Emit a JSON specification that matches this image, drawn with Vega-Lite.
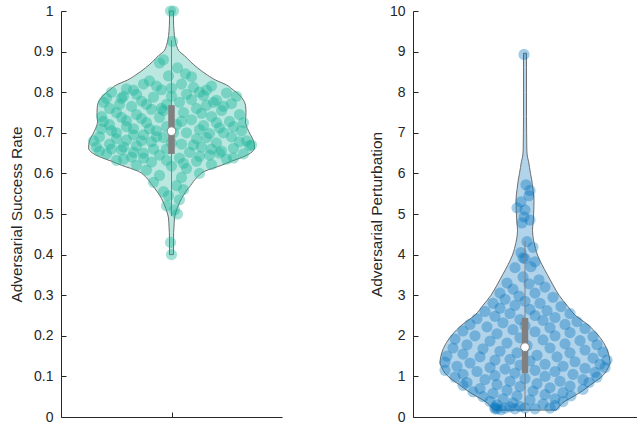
{
  "$schema": "https://vega.github.io/schema/vega-lite/v6.json",
  "autosize": {"type": "pad"},
  "padding": {"left": 9, "top": 4, "right": 0, "bottom": 0},
  "background": "white",
  "bounds": "flush",
  "spacing": 131,
  "config": {
    "view": {"stroke": null},
    "axis": {
      "grid": false,
      "domainColor": "#262626",
      "tickColor": "#262626",
      "labelColor": "#262626",
      "titleColor": "#262626",
      "labelFont": "Liberation Sans",
      "titleFont": "Liberation Sans",
      "labelFontSize": 14,
      "titleFontSize": 15.4,
      "titleFontWeight": "normal",
      "tickSize": -5,
      "labelPadding": 13,
      "domainWidth": 1,
      "tickWidth": 1
    }
  },
  "datasets": {
    "lv": [
      {"v":0.400,"lo":-0.02,"hi":0.02},{"v":0.440,"lo":-0.02,"hi":0.02},{"v":0.470,"lo":-0.025,"hi":0.025},
      {"v":0.490,"lo":-0.03,"hi":0.03},{"v":0.505,"lo":-0.045,"hi":0.045},{"v":0.522,"lo":-0.07,"hi":0.07},
      {"v":0.538,"lo":-0.10,"hi":0.10},{"v":0.554,"lo":-0.14,"hi":0.14},{"v":0.570,"lo":-0.19,"hi":0.19},
      {"v":0.589,"lo":-0.25,"hi":0.25},{"v":0.605,"lo":-0.33,"hi":0.33},{"v":0.620,"lo":-0.50,"hi":0.50},
      {"v":0.630,"lo":-0.60,"hi":0.60},{"v":0.640,"lo":-0.71,"hi":0.71},{"v":0.650,"lo":-0.79,"hi":0.79},
      {"v":0.663,"lo":-0.83,"hi":0.83},{"v":0.680,"lo":-0.82,"hi":0.82},{"v":0.695,"lo":-0.79,"hi":0.79},
      {"v":0.710,"lo":-0.76,"hi":0.76},{"v":0.727,"lo":-0.74,"hi":0.74},{"v":0.750,"lo":-0.745,"hi":0.745},
      {"v":0.768,"lo":-0.74,"hi":0.74},{"v":0.780,"lo":-0.72,"hi":0.72},{"v":0.793,"lo":-0.68,"hi":0.68},
      {"v":0.805,"lo":-0.62,"hi":0.62},{"v":0.818,"lo":-0.55,"hi":0.55},{"v":0.830,"lo":-0.44,"hi":0.44},
      {"v":0.842,"lo":-0.36,"hi":0.36},{"v":0.860,"lo":-0.26,"hi":0.26},{"v":0.875,"lo":-0.19,"hi":0.19},
      {"v":0.890,"lo":-0.13,"hi":0.13},{"v":0.900,"lo":-0.08,"hi":0.08},{"v":0.915,"lo":-0.05,"hi":0.05},
      {"v":0.930,"lo":-0.035,"hi":0.035},{"v":0.950,"lo":-0.025,"hi":0.025},{"v":0.980,"lo":-0.02,"hi":0.02},
      {"v":1.000,"lo":-0.02,"hi":0.02}
    ],
    "lp": [
      {"dx":-0.01,"v":1.0},{"dx":0.02,"v":1.0},{"dx":0.01,"v":0.925},
      {"dx":-0.08,"v":0.88},{"dx":-0.12,"v":0.872},{"dx":0.06,"v":0.86},{"dx":-0.03,"v":0.84},{"dx":0.14,"v":0.845},{"dx":0.20,"v":0.838},{"dx":-0.22,"v":0.828},
      {"dx":-0.28,"v":0.82},{"dx":0.10,"v":0.82},{"dx":0.40,"v":0.815},{"dx":-0.45,"v":0.808},{"dx":-0.10,"v":0.806},{"dx":0.28,"v":0.80},
      {"dx":-0.60,"v":0.80},{"dx":0.55,"v":0.798},{"dx":-0.35,"v":0.795},{"dx":0.0,"v":0.79},{"dx":-0.18,"v":0.788},{"dx":0.65,"v":0.79},
      {"dx":-0.50,"v":0.785},{"dx":0.20,"v":0.782},{"dx":0.45,"v":0.78},{"dx":-0.68,"v":0.775},{"dx":-0.30,"v":0.778},{"dx":0.08,"v":0.775},
      {"dx":-0.05,"v":0.77},{"dx":0.35,"v":0.768},{"dx":0.60,"v":0.772},{"dx":-0.40,"v":0.765},{"dx":-0.62,"v":0.76},{"dx":0.25,"v":0.76},
      {"dx":-0.20,"v":0.758},{"dx":0.50,"v":0.755},{"dx":-0.55,"v":0.75},{"dx":0.12,"v":0.75},{"dx":-0.35,"v":0.745},{"dx":0.68,"v":0.745},
      {"dx":-0.70,"v":0.74},{"dx":0.40,"v":0.74},{"dx":-0.12,"v":0.738},{"dx":-0.45,"v":0.73},{"dx":0.20,"v":0.732},{"dx":0.58,"v":0.728},
      {"dx":-0.25,"v":0.725},{"dx":0.05,"v":0.72},{"dx":-0.62,"v":0.72},{"dx":0.32,"v":0.718},{"dx":-0.05,"v":0.715},{"dx":0.48,"v":0.712},
      {"dx":-0.38,"v":0.71},{"dx":-0.15,"v":0.705},{"dx":0.70,"v":0.705},{"dx":0.15,"v":0.70},{"dx":-0.55,"v":0.70},{"dx":0.38,"v":0.698},
      {"dx":-0.28,"v":0.695},{"dx":-0.72,"v":0.69},{"dx":0.60,"v":0.69},{"dx":-0.08,"v":0.688},{"dx":0.25,"v":0.685},{"dx":-0.45,"v":0.682},
      {"dx":0.75,"v":0.68},{"dx":-0.20,"v":0.678},{"dx":0.45,"v":0.675},{"dx":-0.62,"v":0.672},{"dx":0.10,"v":0.672},{"dx":-0.35,"v":0.668},
      {"dx":0.30,"v":0.665},{"dx":-0.75,"v":0.665},{"dx":0.62,"v":0.662},{"dx":-0.05,"v":0.66},{"dx":-0.50,"v":0.658},{"dx":0.50,"v":0.655},
      {"dx":0.18,"v":0.652},{"dx":-0.28,"v":0.65},{"dx":-0.65,"v":0.648},{"dx":0.72,"v":0.648},{"dx":0.38,"v":0.645},{"dx":-0.12,"v":0.645},
      {"dx":-0.40,"v":0.64},{"dx":0.08,"v":0.638},{"dx":0.55,"v":0.635},{"dx":-0.55,"v":0.632},{"dx":0.25,"v":0.63},{"dx":-0.20,"v":0.628},
      {"dx":0.40,"v":0.622},{"dx":-0.35,"v":0.62},{"dx":0.0,"v":0.618},{"dx":0.15,"v":0.612},{"dx":-0.25,"v":0.608},{"dx":0.28,"v":0.60},
      {"dx":-0.12,"v":0.595},{"dx":0.10,"v":0.59},{"dx":-0.18,"v":0.578},{"dx":0.05,"v":0.57},{"dx":0.12,"v":0.56},{"dx":-0.08,"v":0.555},
      {"dx":-0.03,"v":0.545},{"dx":0.08,"v":0.535},{"dx":-0.05,"v":0.52},{"dx":0.03,"v":0.51},{"dx":0.06,"v":0.50},
      {"dx":-0.01,"v":0.43},{"dx":0.0,"v":0.40},
      {"dx":-0.48,"v":0.79},{"dx":0.32,"v":0.792},{"dx":-0.25,"v":0.77},{"dx":0.52,"v":0.765},{"dx":-0.08,"v":0.755},{"dx":0.30,"v":0.748},
      {"dx":-0.50,"v":0.738},{"dx":-0.30,"v":0.735},{"dx":0.45,"v":0.725},{"dx":-0.68,"v":0.728},{"dx":0.10,"v":0.728},{"dx":0.62,"v":0.715},
      {"dx":-0.45,"v":0.715},{"dx":-0.22,"v":0.71},{"dx":0.28,"v":0.708},{"dx":-0.60,"v":0.705},{"dx":0.02,"v":0.70},{"dx":0.52,"v":0.70},
      {"dx":-0.38,"v":0.695},{"dx":-0.15,"v":0.69},{"dx":0.35,"v":0.688},{"dx":-0.55,"v":0.685},{"dx":0.68,"v":0.678},{"dx":-0.30,"v":0.68},
      {"dx":0.0,"v":0.675},{"dx":0.22,"v":0.67},{"dx":-0.48,"v":0.665},{"dx":-0.18,"v":0.66},{"dx":0.40,"v":0.66},{"dx":0.78,"v":0.668},
      {"dx":-0.72,"v":0.655},{"dx":-0.38,"v":0.652},{"dx":0.28,"v":0.642},{"dx":0.62,"v":0.638},{"dx":-0.48,"v":0.635},{"dx":-0.05,"v":0.632},
      {"dx":0.12,"v":0.625},{"dx":-0.28,"v":0.638},{"dx":0.48,"v":0.65},{"dx":-0.60,"v":0.66},{"dx":-0.10,"v":0.76},{"dx":0.15,"v":0.795},
      {"dx":-0.38,"v":0.805},{"dx":0.0,"v":0.81},{"dx":0.22,"v":0.812},{"dx":-0.15,"v":0.815},{"dx":0.35,"v":0.805},{"dx":-0.52,"v":0.77},
      {"dx":0.42,"v":0.775},{"dx":-0.78,"v":0.68},{"dx":0.80,"v":0.67},{"dx":-0.70,"v":0.71},{"dx":0.72,"v":0.725},{"dx":-0.65,"v":0.785}
    ],
    "lb": [{"c":0,"wlo":0.495,"whi":0.928,"q1":0.648,"q3":0.768,"med":0.704}],
    "rv": [
      {"v":0.17,"lo":-0.31,"hi":0.31},{"v":0.25,"lo":-0.34,"hi":0.34},{"v":0.37,"lo":-0.39,"hi":0.39},
      {"v":0.50,"lo":-0.48,"hi":0.48},{"v":0.62,"lo":-0.56,"hi":0.56},{"v":0.80,"lo":-0.66,"hi":0.66},
      {"v":0.96,"lo":-0.75,"hi":0.75},{"v":1.08,"lo":-0.80,"hi":0.80},{"v":1.21,"lo":-0.83,"hi":0.83},
      {"v":1.33,"lo":-0.85,"hi":0.85},{"v":1.45,"lo":-0.845,"hi":0.845},{"v":1.60,"lo":-0.83,"hi":0.83},
      {"v":1.77,"lo":-0.80,"hi":0.80},{"v":2.02,"lo":-0.73,"hi":0.73},{"v":2.27,"lo":-0.63,"hi":0.63},
      {"v":2.51,"lo":-0.50,"hi":0.50},{"v":2.75,"lo":-0.42,"hi":0.42},{"v":3.00,"lo":-0.34,"hi":0.34},
      {"v":3.25,"lo":-0.28,"hi":0.28},{"v":3.50,"lo":-0.225,"hi":0.225},{"v":3.75,"lo":-0.17,"hi":0.17},
      {"v":3.99,"lo":-0.125,"hi":0.125},{"v":4.15,"lo":-0.105,"hi":0.105},{"v":4.30,"lo":-0.09,"hi":0.09},
      {"v":4.48,"lo":-0.078,"hi":0.078},{"v":4.60,"lo":-0.075,"hi":0.075},{"v":4.85,"lo":-0.083,"hi":0.083},
      {"v":5.10,"lo":-0.088,"hi":0.088},{"v":5.34,"lo":-0.09,"hi":0.09},{"v":5.60,"lo":-0.08,"hi":0.08},
      {"v":5.84,"lo":-0.067,"hi":0.067},{"v":6.00,"lo":-0.055,"hi":0.055},{"v":6.15,"lo":-0.045,"hi":0.045},
      {"v":6.30,"lo":-0.035,"hi":0.035},{"v":6.40,"lo":-0.025,"hi":0.025},{"v":6.60,"lo":-0.018,"hi":0.018},
      {"v":7.00,"lo":-0.016,"hi":0.016},{"v":7.40,"lo":-0.015,"hi":0.015},{"v":8.00,"lo":-0.015,"hi":0.015},
      {"v":8.60,"lo":-0.015,"hi":0.015},{"v":8.96,"lo":-0.015,"hi":0.015}
    ],
    "rp": [
      {"dx":-0.01,"v":8.93},
      {"dx":0.01,"v":5.72},{"dx":0.05,"v":5.58},{"dx":0.04,"v":5.45},{"dx":-0.04,"v":5.3},{"dx":-0.08,"v":5.15},{"dx":0.0,"v":5.1},{"dx":-0.01,"v":4.93},{"dx":0.05,"v":4.85},{"dx":-0.03,"v":4.78},
      {"dx":0.02,"v":4.32},{"dx":0.08,"v":4.18},{"dx":-0.04,"v":4.05},{"dx":-0.02,"v":3.92},{"dx":0.0,"v":3.9},{"dx":-0.10,"v":3.68},{"dx":0.06,"v":3.7},{"dx":0.10,"v":3.82},{"dx":-0.02,"v":3.45},{"dx":0.14,"v":3.38},
      {"dx":-0.18,"v":3.3},{"dx":0.04,"v":3.28},{"dx":0.20,"v":3.2},{"dx":-0.12,"v":3.15},{"dx":-0.25,"v":3.05},{"dx":0.10,"v":3.05},{"dx":-0.06,"v":2.98},{"dx":0.28,"v":2.95},{"dx":-0.20,"v":2.9},{"dx":0.0,"v":2.85},
      {"dx":-0.32,"v":2.8},{"dx":0.15,"v":2.8},{"dx":-0.10,"v":2.75},{"dx":0.36,"v":2.72},{"dx":-0.25,"v":2.68},{"dx":0.05,"v":2.65},{"dx":0.22,"v":2.62},{"dx":-0.40,"v":2.6},{"dx":-0.15,"v":2.55},{"dx":0.45,"v":2.55},
      {"dx":0.10,"v":2.5},{"dx":-0.30,"v":2.48},{"dx":0.30,"v":2.45},{"dx":-0.48,"v":2.42},{"dx":-0.05,"v":2.4},{"dx":0.18,"v":2.38},{"dx":0.52,"v":2.35},{"dx":-0.22,"v":2.32},{"dx":-0.55,"v":2.28},{"dx":0.40,"v":2.28},
      {"dx":0.0,"v":2.25},{"dx":-0.38,"v":2.22},{"dx":0.25,"v":2.2},{"dx":0.60,"v":2.18},{"dx":-0.12,"v":2.15},{"dx":-0.62,"v":2.12},{"dx":0.10,"v":2.1},{"dx":0.45,"v":2.08},{"dx":-0.28,"v":2.05},{"dx":-0.50,"v":2.0},
      {"dx":0.30,"v":2.0},{"dx":0.68,"v":1.98},{"dx":-0.05,"v":1.95},{"dx":-0.70,"v":1.92},{"dx":0.18,"v":1.9},{"dx":0.55,"v":1.88},{"dx":-0.35,"v":1.87},{"dx":-0.18,"v":1.82},{"dx":0.40,"v":1.8},{"dx":0.72,"v":1.78},
      {"dx":-0.58,"v":1.78},{"dx":0.02,"v":1.76},{"dx":-0.72,"v":1.7},{"dx":0.25,"v":1.7},{"dx":-0.42,"v":1.68},{"dx":0.60,"v":1.65},{"dx":-0.25,"v":1.62},{"dx":0.78,"v":1.6},{"dx":-0.08,"v":1.58},{"dx":0.45,"v":1.58},
      {"dx":-0.62,"v":1.55},{"dx":0.12,"v":1.52},{"dx":-0.78,"v":1.5},{"dx":0.32,"v":1.48},{"dx":-0.45,"v":1.48},{"dx":0.68,"v":1.45},{"dx":-0.15,"v":1.42},{"dx":0.82,"v":1.4},{"dx":-0.30,"v":1.4},{"dx":0.05,"v":1.38},
      {"dx":0.50,"v":1.36},{"dx":-0.80,"v":1.35},{"dx":-0.55,"v":1.33},{"dx":0.20,"v":1.3},{"dx":0.75,"v":1.3},{"dx":-0.05,"v":1.28},{"dx":0.38,"v":1.25},{"dx":-0.68,"v":1.25},{"dx":-0.35,"v":1.22},{"dx":0.60,"v":1.2},
      {"dx":0.80,"v":1.22},{"dx":-0.20,"v":1.18},{"dx":0.10,"v":1.15},{"dx":-0.80,"v":1.15},{"dx":-0.48,"v":1.12},{"dx":0.30,"v":1.12},{"dx":0.70,"v":1.1},{"dx":-0.10,"v":1.08},{"dx":0.48,"v":1.05},{"dx":-0.62,"v":1.05},
      {"dx":-0.30,"v":1.02},{"dx":0.20,"v":1.0},{"dx":0.72,"v":0.98},{"dx":-0.70,"v":0.98},{"dx":0.0,"v":0.95},{"dx":0.58,"v":0.92},{"dx":-0.40,"v":0.92},{"dx":-0.15,"v":0.88},{"dx":0.35,"v":0.88},{"dx":-0.58,"v":0.85},
      {"dx":0.64,"v":0.85},{"dx":0.12,"v":0.82},{"dx":-0.28,"v":0.8},{"dx":-0.62,"v":0.78},{"dx":0.45,"v":0.76},{"dx":-0.05,"v":0.75},{"dx":0.25,"v":0.72},{"dx":-0.45,"v":0.7},{"dx":0.58,"v":0.68},{"dx":-0.18,"v":0.66},
      {"dx":0.08,"v":0.64},{"dx":-0.52,"v":0.62},{"dx":0.38,"v":0.6},{"dx":-0.32,"v":0.58},{"dx":0.20,"v":0.55},{"dx":0.46,"v":0.52},{"dx":-0.08,"v":0.52},{"dx":-0.42,"v":0.5},{"dx":0.30,"v":0.45},{"dx":-0.22,"v":0.45},
      {"dx":0.05,"v":0.42},{"dx":0.38,"v":0.38},{"dx":-0.35,"v":0.38},{"dx":-0.12,"v":0.35},{"dx":0.18,"v":0.32},{"dx":-0.28,"v":0.3},{"dx":-0.20,"v":0.22},{"dx":-0.28,"v":0.2},{"dx":-0.10,"v":0.2},{"dx":-0.30,"v":0.24},
      {"dx":-0.15,"v":0.25},{"dx":0.0,"v":0.22},{"dx":0.10,"v":0.2},{"dx":0.25,"v":0.22},{"dx":-0.24,"v":0.18},{"dx":-0.05,"v":0.26},{"dx":0.30,"v":0.28},{"dx":-0.30,"v":0.2}
    ],
    "rb": [{"c":0,"wlo":0.17,"whi":4.34,"q1":1.08,"q3":2.44,"med":1.72}]
  },
  "hconcat": [
    {
      "width": 221,
      "height": 406,
      "layer": [
        {
          "data": {"name": "lv"},
          "mark": {"type": "area", "orient": "horizontal", "interpolate": "monotone", "fill": "#1ab399", "fillOpacity": 0.3, "stroke": "#6e6e6e", "strokeWidth": 1},
          "encoding": {
            "y": {"field": "v", "type": "quantitative", "scale": {"domain": [0, 1], "nice": false, "zero": false}, "title": "Adversarial Success Rate",
                  "axis": {"values": [0,0.1,0.2,0.3,0.4,0.5,0.6,0.7,0.8,0.9,1], "format": "~g", "titlePadding": 9}},
            "x": {"field": "lo", "type": "quantitative", "scale": {"domain": [-1.105, 1.105], "nice": false, "zero": false}, "title": null,
                  "axis": {"values": [0], "labels": false}},
            "x2": {"field": "hi"}
          }
        },
        {
          "data": {"name": "lp"},
          "mark": {"type": "circle", "size": 125, "color": "#1ab399", "opacity": 0.4},
          "encoding": {
            "y": {"field": "v", "type": "quantitative", "title": "Adversarial Success Rate"},
            "x": {"field": "dx", "type": "quantitative", "title": null}
          }
        },
        {
          "data": {"name": "lb"},
          "mark": {"type": "rule", "color": "#808080", "strokeWidth": 1},
          "encoding": {
            "y": {"field": "wlo", "type": "quantitative", "title": "Adversarial Success Rate"},
            "y2": {"field": "whi"},
            "x": {"field": "c", "type": "quantitative", "title": null}
          }
        },
        {
          "data": {"name": "lb"},
          "mark": {"type": "rule", "color": "#808080", "strokeWidth": 6.5},
          "encoding": {
            "y": {"field": "q1", "type": "quantitative", "title": "Adversarial Success Rate"},
            "y2": {"field": "q3"},
            "x": {"field": "c", "type": "quantitative", "title": null}
          }
        },
        {
          "data": {"name": "lb"},
          "mark": {"type": "point", "shape": "circle", "filled": true, "fill": "white", "stroke": "#808080", "strokeWidth": 1, "size": 75, "opacity": 1},
          "encoding": {
            "y": {"field": "med", "type": "quantitative", "title": "Adversarial Success Rate"},
            "x": {"field": "c", "type": "quantitative", "title": null}
          }
        }
      ]
    },
    {
      "width": 224,
      "height": 406,
      "layer": [
        {
          "data": {"name": "rv"},
          "mark": {"type": "area", "orient": "horizontal", "interpolate": "monotone", "fill": "#0072bd", "fillOpacity": 0.3, "stroke": "#6e6e6e", "strokeWidth": 1},
          "encoding": {
            "y": {"field": "v", "type": "quantitative", "scale": {"domain": [0, 10], "nice": false, "zero": false}, "title": "Adversarial Perturbation",
                  "axis": {"values": [0,1,2,3,4,5,6,7,8,9,10], "format": "d", "titlePadding": 5}},
            "x": {"field": "lo", "type": "quantitative", "scale": {"domain": [-1.12, 1.12], "nice": false, "zero": false}, "title": null,
                  "axis": {"values": [0], "labels": false}},
            "x2": {"field": "hi"}
          }
        },
        {
          "data": {"name": "rp"},
          "mark": {"type": "circle", "size": 125, "color": "#0072bd", "opacity": 0.36},
          "encoding": {
            "y": {"field": "v", "type": "quantitative", "title": "Adversarial Perturbation"},
            "x": {"field": "dx", "type": "quantitative", "title": null}
          }
        },
        {
          "data": {"name": "rb"},
          "mark": {"type": "rule", "color": "#808080", "strokeWidth": 1},
          "encoding": {
            "y": {"field": "wlo", "type": "quantitative", "title": "Adversarial Perturbation"},
            "y2": {"field": "whi"},
            "x": {"field": "c", "type": "quantitative", "title": null}
          }
        },
        {
          "data": {"name": "rb"},
          "mark": {"type": "rule", "color": "#808080", "strokeWidth": 6.5},
          "encoding": {
            "y": {"field": "q1", "type": "quantitative", "title": "Adversarial Perturbation"},
            "y2": {"field": "q3"},
            "x": {"field": "c", "type": "quantitative", "title": null}
          }
        },
        {
          "data": {"name": "rb"},
          "mark": {"type": "point", "shape": "circle", "filled": true, "fill": "white", "stroke": "#808080", "strokeWidth": 1, "size": 75, "opacity": 1},
          "encoding": {
            "y": {"field": "med", "type": "quantitative", "title": "Adversarial Perturbation"},
            "x": {"field": "c", "type": "quantitative", "title": null}
          }
        }
      ]
    }
  ]
}
